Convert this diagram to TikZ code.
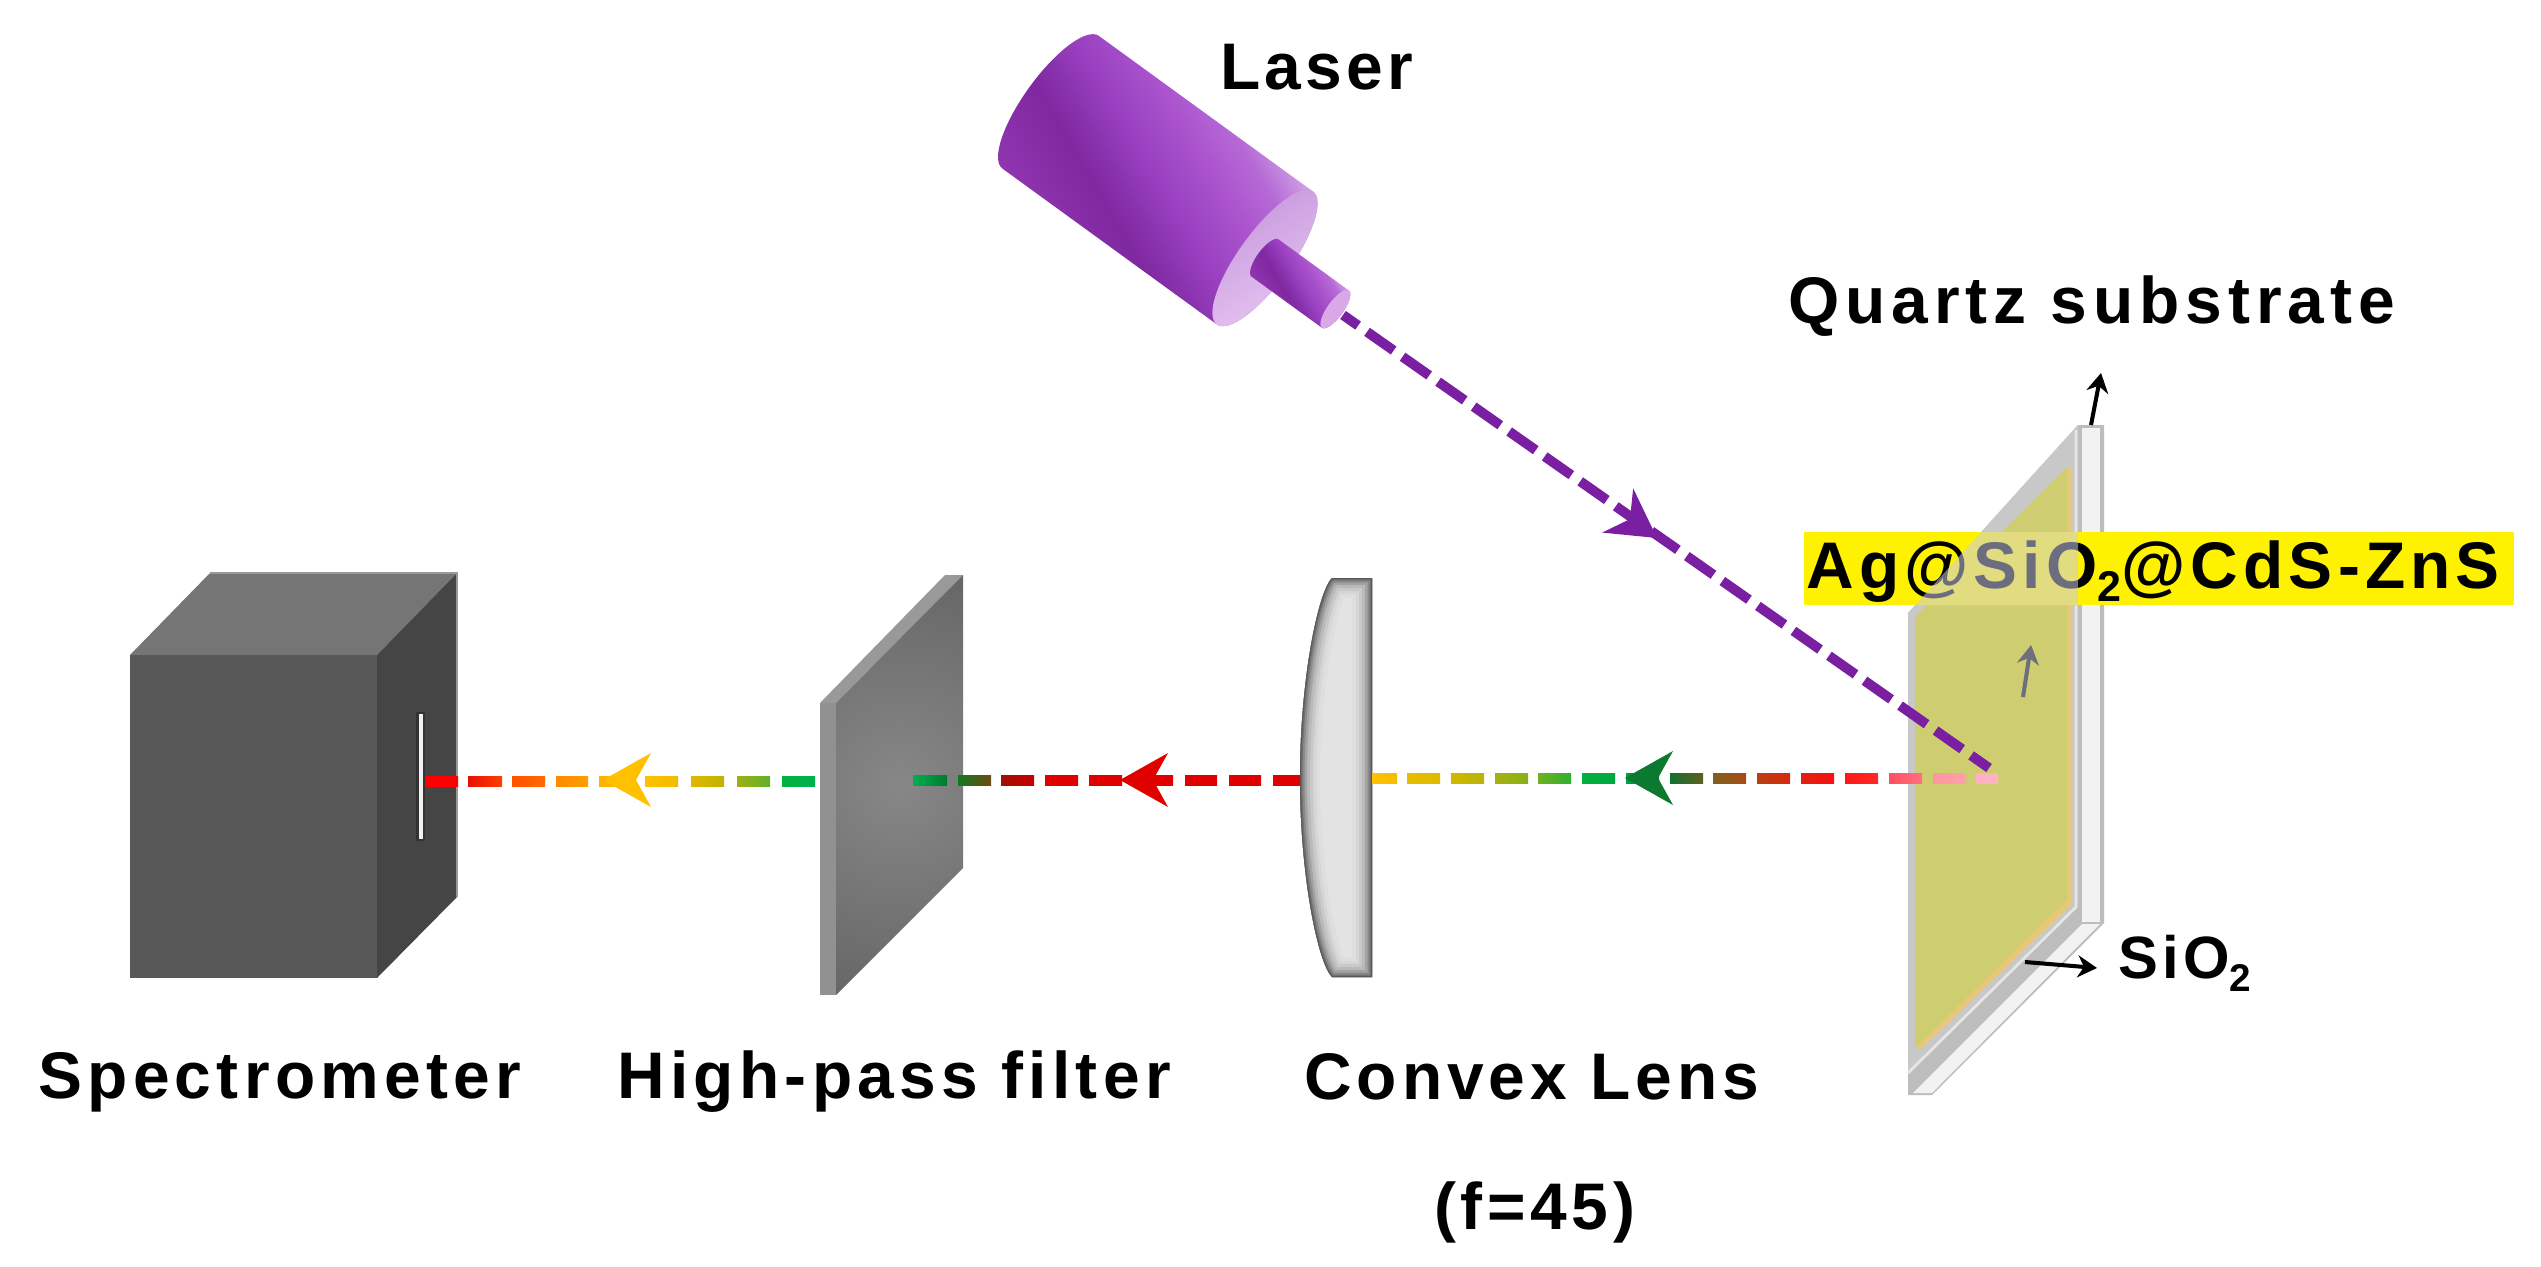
\documentclass[tikz,border=0pt]{standalone}
\usepackage{fontspec}
\setmainfont{Liberation Sans}[BoldFont={Liberation Sans Bold}]
\usetikzlibrary{arrows.meta}
\definecolor{purplebeam}{HTML}{7A1FA2}
\definecolor{plateyellow}{HTML}{CECE70}
\definecolor{plateorange}{HTML}{E8C878}
\definecolor{plategray}{HTML}{C8C8C8}
\definecolor{platedark}{HTML}{BDBDBD}
\definecolor{quartzwhite}{HTML}{F2F2F2}
\definecolor{overlayblue}{HTML}{CBCBED}
\definecolor{arrowgray}{HTML}{6E6E80}
\definecolor{laserA}{HTML}{9035B0}
\definecolor{laserB}{HTML}{7F28A0}
\definecolor{laserC}{HTML}{9840C0}
\definecolor{laserD}{HTML}{AC55CE}
\definecolor{laserE}{HTML}{B66AD6}
\definecolor{laserF}{HTML}{CE9CE4}
\definecolor{faceA}{HTML}{C595DC}
\definecolor{faceB}{HTML}{E8C8F2}
\definecolor{tipface}{HTML}{D8A8E8}
\definecolor{headyellow}{HTML}{FFC000}
\definecolor{headred}{HTML}{E00000}
\definecolor{headgreen}{HTML}{0B7A30}
\pgfdeclarehorizontalshading{laserbody}{100bp}{%
 color(0bp)=(laserA); color(34bp)=(laserA); color(43bp)=(laserB); color(50.2bp)=(laserC);
 color(57bp)=(laserD); color(61.7bp)=(laserE); color(66bp)=(laserF); color(100bp)=(laserF)}
\newcommand{\beamdashes}[2]{\foreach \a/\b/\ca/\cb in {#2}{%
  \definecolor{dashA}{HTML}{\ca}\definecolor{dashB}{HTML}{\cb}%
  \shade[left color=dashA,right color=dashB] (\a,#1-5) rectangle (\b,#1+5);}}
\newcommand{\beamhead}[4]{\fill[#4,shift={(#1,#2)},rotate=#3]
  (0,0) -- (48,-27) -- (33,0) -- (48,27) -- cycle;}
\tikzset{
  x=0.02cm,y=-0.02cm,
  lbl/.style={anchor=base west,inner sep=0pt,font=\bfseries\fontsize{37.5}{40}\selectfont,text=black},
  thinarrow/.style={line width=2.3pt,-{Stealth[length=11pt,width=12.5pt]}}
}
\begin{document}
\begin{tikzpicture}
\fill[white] (0,0) rectangle (2541,1267);
\useasboundingbox (0,0) rectangle (2541,1267);

% ---------- spectrometer
\fill[fill=black!54] (130,655) -- (210,573) -- (457,573) -- (377,655) -- cycle;
\fill[fill=black!73] (377,655) -- (457,573) -- (457,897) -- (377,978) -- cycle;
\fill[fill=black!65.5] (130,655) rectangle (377,978);
\draw[black!40,line width=0.6pt] (210,573) -- (457,573) -- (457,897);
\fill[black!80] (416,712) rectangle (425,841);
\fill[black!5] (419,714) rectangle (423,839);

% ---------- filter
\fill[black!40] (820,703) -- (945,575) -- (963,575) -- (836,703) -- cycle;
\fill[black!43] (820,703) rectangle (836,995);
\begin{scope}
 \clip (836,703) -- (963,575) -- (963,868) -- (836,995) -- cycle;
 \shade[inner color=black!47,outer color=black!60] (680,565) rectangle (1120,1005);
\end{scope}

% ---------- lens
\begin{scope}
 \clip (1372,578) -- (1332,578) .. controls (1318,592) and (1300,680) .. (1300,778)
   .. controls (1300,876) and (1318,963) .. (1332,977) -- (1372,977) -- cycle;
 \fill[black!11] (1290,570) rectangle (1380,985);
 \foreach \w/\c in {40/13,32/16,26/21,20/27,14/36,9/46,5/56,2/65}{
  \draw[black!\c,line width=\w*0.569pt]
   (1372,578) -- (1332,578) .. controls (1318,592) and (1300,680) .. (1300,778)
   .. controls (1300,876) and (1318,963) .. (1332,977) -- (1372,977) -- cycle;}
\end{scope}

% ---------- sample plate
\fill[platedark] (1908,613) -- (2078,425) -- (2104,425) -- (2104,923) -- (1932,1095) -- (1908,1095) -- cycle;
\fill[quartzwhite] (2082,428) rectangle (2100,922);
\fill[quartzwhite] (1913,1093) -- (1932,1093) -- (2100,924) -- (2082,924) -- cycle;
\fill[plategray] (1908,613) -- (2078,425) -- (2078,905) -- (1908,1073) -- cycle;
\draw[black!10,line width=1.6pt] (1908,1073) -- (2076,907) -- (2076,430);
\fill[plateorange] (1915,617) -- (2067,468) -- (2072,468) -- (2072,904) -- (1922,1048) -- (1915,1048) -- cycle;
\fill[plateyellow] (1915,617) -- (2067,468) -- (2067,900) -- (1915,1048) -- cycle;

% ---------- label band, seen through the plate
\fill[yellow] (1804,532) rectangle (2514,605);
\node[lbl] (aglabel) at (1806,588) {\addfontfeatures{LetterSpace=7.8}Ag@SiO\raisebox{-0.2em}{\fontsize{24.5}{26}\selectfont 2}@CdS-ZnS};
\begin{scope}
 \clip (1804,532) rectangle (2514,605);
 \fill[overlayblue,fill opacity=0.54] (1908,613) -- (2078,425) -- (2078,700) -- (1908,700) -- cycle;
\end{scope}

% ---------- small arrows
\coordinate (qa) at (2091,425); \coordinate (qb) at (2101,373);
\draw[thinarrow,black] (qa) -- (qb);
\coordinate (ga) at (2023,697); \coordinate (gb) at (2031,645);
\draw[thinarrow,arrowgray] (ga) -- (gb);
\coordinate (sa) at (2025,962); \coordinate (sb) at (2097,968);
\draw[thinarrow,black] (sa) -- (sb);

% ---------- laser
\begin{scope}
 \clip[shift={(1265,258)},rotate=-36] (0,-82) -- (-265,-82) .. controls (-279.4,-82) and (-291,-45.3) .. (-291,0)
   .. controls (-291,45.3) and (-279.4,82) .. (-265,82) -- (0,82)
   .. controls (14.4,82) and (26,45.3) .. (26,0) .. controls (26,-45.3) and (14.4,-82) .. (0,-82) -- cycle;
 \shade[shading=laserbody,shading angle=30] (955,-20) rectangle (1355,380);
\end{scope}
\shade[left color=faceA,right color=faceB,shading angle=30,shift={(1265,258)},rotate=-36]
   (0,-82) .. controls (14.4,-82) and (26,-45.3) .. (26,0) .. controls (26,45.3) and (14.4,82) .. (0,82)
   .. controls (-14.4,82) and (-26,45.3) .. (-26,0) .. controls (-26,-45.3) and (-14.4,-82) .. (0,-82) -- cycle;
\begin{scope}
 \clip[shift={(1265,258)},rotate=-36] (0,-23) -- (87,-23) .. controls (91.4,-23) and (95,-12.7) .. (95,0)
   .. controls (95,12.7) and (91.4,23) .. (87,23) -- (0,23)
   .. controls (-4.4,23) and (-8,12.7) .. (-8,0) .. controls (-8,-12.7) and (-4.4,-23) .. (0,-23) -- cycle;
 \shade[shading=laserbody,shading angle=30] (1241,226) rectangle (1361,346);
\end{scope}
\fill[tipface,shift={(1265,258)},rotate=-36]
   (87,-23) .. controls (91.4,-23) and (95,-12.7) .. (95,0) .. controls (95,12.7) and (91.4,23) .. (87,23)
   .. controls (82.6,23) and (79,12.7) .. (79,0) .. controls (79,-12.7) and (82.6,-23) .. (87,-23) -- cycle;

% ---------- laser beam
\coordinate (lasertip) at (1343,315); \coordinate (spot) at (1989,768);
\draw[purplebeam,line width=5.6pt,dash pattern=on 18.5pt off 6.2pt,dash phase=8pt] (lasertip) -- (spot);
\beamhead{1657}{538}{145}{purplebeam}

% ---------- emission beam
\beamdashes{781}{425/458/FF0000/FF0000,468/502/E81000/FF4000,512/545/FF5000/FF6C00,556/588/FF8800/FFA000,
 599/632/FFB000/FFC000,645/678/FFC000/F0BC00,691/724/E0B800/C0B400,737/770/A0B010/60B030,782/815/00B040/00B050}
\beamdashes{780}{913/947/00B050/007A30,958/991/107A20/704A10,1001/1034/A01000/C80000,1045/1078/E00000/E00000,
 1089/1122/E00000/E00000,1140/1173/E00000/E00000,1185/1217/E00000/E00000,1229/1261/E00000/E00000,1273/1300/E00000/E00000}
\beamdashes{778}{1372/1397/FFC000/F4BE00,1407/1440/E8BC00/DCBA00,1451/1484/D0B800/B8B408,1495/1528/A8B010/88B018,
 1538/1571/70B020/30B030,1582/1615/00B040/00A840,1626/1659/00A040/008030,1670/1703/107030/606020,1713/1746/806020/A84C14,
 1757/1790/B84010/D82810,1801/1834/E02010/F81010,1845/1878/FF1818/FF2828,1889/1922/FF5060/FF7080,1933/1966/FF95A0/FFA0AC,1976/1998/FFB0C0/FFB4C2}
\beamhead{603}{780}{0}{headyellow}
\beamhead{1120}{780}{0}{headred}
\beamhead{1625}{778}{0}{headgreen}

% ---------- labels
\node[lbl] (laserlabel) at (1220,90) {\addfontfeatures{LetterSpace=6.4}Laser};
\node[lbl] (quartzlabel) at (1788,323) {\addfontfeatures{LetterSpace=9}Quartz substrate};
\node[lbl] (speclabel) at (38,1098) {\addfontfeatures{LetterSpace=8}Spectrometer};
\node[lbl] (filterlabel) at (617,1098) {\addfontfeatures{LetterSpace=8}High-pass filter};
\node[lbl] (lenslabel) at (1304,1099) {\addfontfeatures{LetterSpace=7.5}Convex Lens};
\node[lbl] (focallabel) at (1434,1229) {\addfontfeatures{LetterSpace=7}(f=45)};
\node[lbl,font=\bfseries\fontsize{34}{36}\selectfont] (sio2label) at (2118,978) {\addfontfeatures{LetterSpace=7}SiO\raisebox{-0.23em}{\fontsize{22}{24}\selectfont 2}};
\end{tikzpicture}
\end{document}
